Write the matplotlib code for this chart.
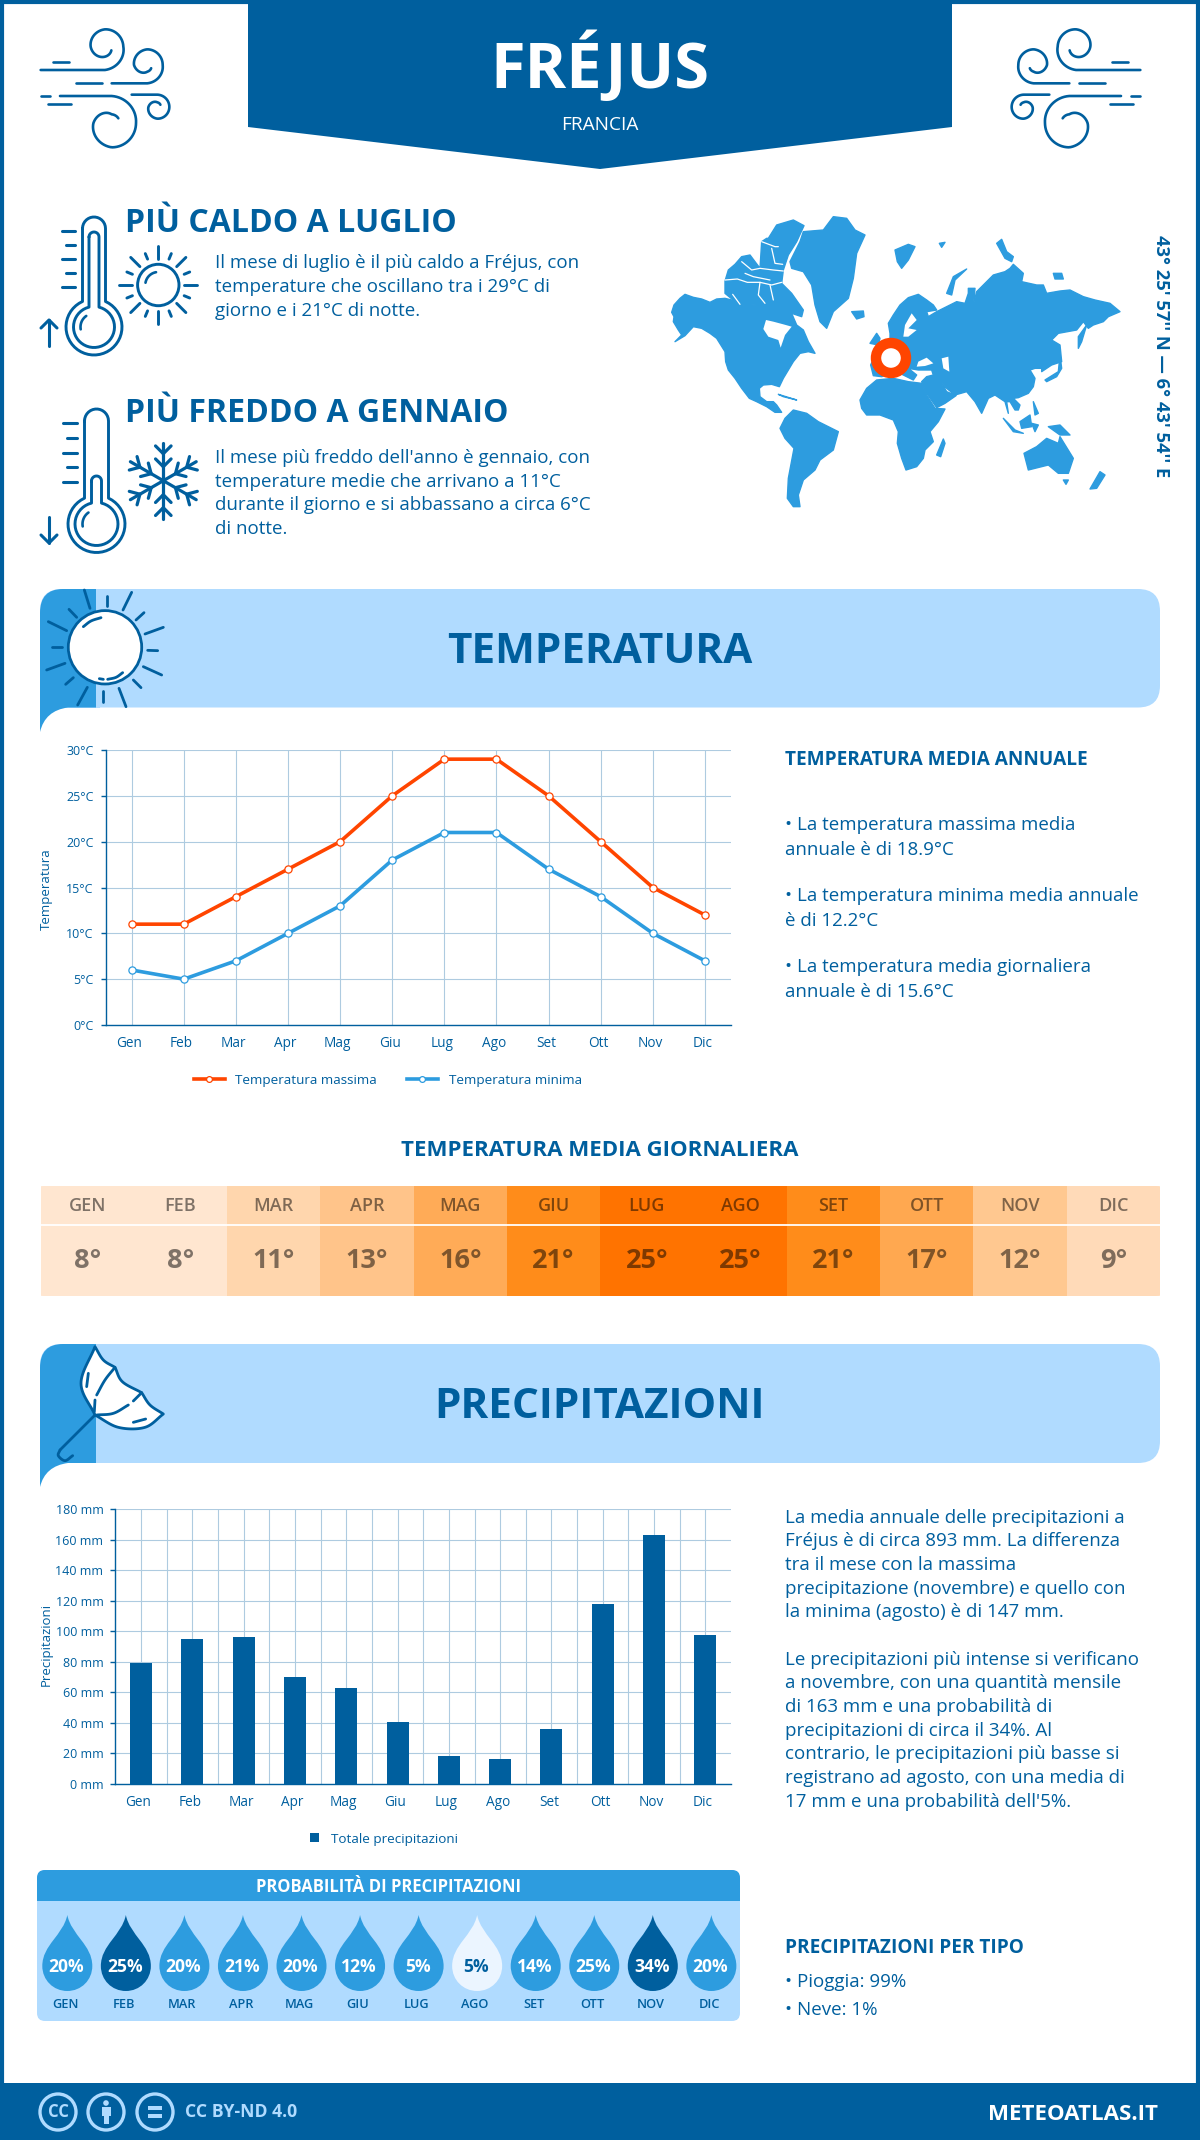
import numpy as np
import matplotlib
matplotlib.use('Agg')
import matplotlib.pyplot as plt
from matplotlib.patches import Circle, FancyBboxPatch, PathPatch, Polygon, Rectangle
from matplotlib.path import Path
from matplotlib.transforms import ScaledTranslation

plt.rcParams['font.family'] = ['Open Sans', 'DejaVu Sans']

W, H = 1200, 2140
BLUE = '#005f9e'
MID = '#2d9cdf'
LIGHT = '#b0dbff'
ORANGE = '#ff4500'
GRID = '#aecbe0'

# data
months = ['Gen', 'Feb', 'Mar', 'Apr', 'Mag', 'Giu', 'Lug', 'Ago', 'Set', 'Ott', 'Nov', 'Dic']
temp_max = [11, 11, 14, 17, 20, 25, 29, 29, 25, 20, 15, 12]
temp_min = [6, 5, 7, 10, 13, 18, 21, 21, 17, 14, 10, 7]
temp_avg = [8, 8, 11, 13, 16, 21, 25, 25, 21, 17, 12, 9]
temp_colors = ['#ffe6d0', '#ffe6d0', '#ffd6ad', '#ffc48a', '#ffab57', '#ff8c1a',
	'#ff7300', '#ff7300', '#ff8c1a', '#ffa850', '#ffc890', '#ffdab8']
precip = [79.4, 95.1, 96.4, 70.3, 63, 40.8, 18.5, 16.6, 36.2, 118, 163.2, 97.7]
precip_prob = [20, 25, 20, 21, 20, 12, 5, 5, 14, 25, 34, 20]
prob_colors = [MID, BLUE, MID, MID, MID, MID, MID, '#ebf5ff', MID, MID, BLUE, MID]
prob_text = ['white'] * 7 + [BLUE] + ['white'] * 4

hot_lines = ['Il mese di luglio è il più caldo a Fréjus, con',
	'temperature che oscillano tra i 29°C di',
	'giorno e i 21°C di notte.']
cold_lines = ["Il mese più freddo dell'anno è gennaio, con",
	'temperature medie che arrivano a 11°C',
	'durante il giorno e si abbassano a circa 6°C',
	'di notte.']
annual_lines = ['• La temperatura massima media', 'annuale è di 18.9°C',
	'• La temperatura minima media annuale', 'è di 12.2°C',
	'• La temperatura media giornaliera', 'annuale è di 15.6°C']
precip_lines = ['La media annuale delle precipitazioni a',
	'Fréjus è di circa 893 mm. La differenza',
	'tra il mese con la massima',
	'precipitazione (novembre) e quello con',
	'la minima (agosto) è di 147 mm.',
	'Le precipitazioni più intense si verificano',
	'a novembre, con una quantità mensile',
	'di 163 mm e una probabilità di',
	'precipitazioni di circa il 34%. Al',
	'contrario, le precipitazioni più basse si',
	'registrano ad agosto, con una media di',
	'17 mm e una probabilità dell\'5%.']

# rough outlines of the land masses, in crop coordinates of the map area
land = [
	# north america
	[(35,322),(42,300),(60,280),(75,268),(100,277),(125,282),(150,292),(170,282),(195,280),(215,285),(235,298),(262,302),(290,300),(310,290),(330,280),(345,290),(360,300),(375,310),(395,325),(410,360),(430,375),(445,410),(465,445),(445,440),(420,445),(400,470),(385,495),(370,520),(358,545),(335,538),(310,540),(298,550),(300,575),(320,590),(340,590),(350,600),(365,622),(345,622),(320,605),(290,590),(268,580),(245,550),(225,520),(205,495),(197,470),(195,440),(170,400),(150,385),(125,370),(100,365),(75,392),(45,410),(65,390),(55,375),(40,350),(42,335)],
	# arctic islands, one mass, cut up by the channels below
	[(195,228),(205,195),(225,178),(245,155),(270,150),(300,190),(305,110),(320,100),(325,100),(350,60),(400,45),(432,62),(410,110),(385,150),(370,195),(365,235),(395,265),(430,315),(425,335),(395,325),(360,300),(330,285),(300,300),(235,298),(195,265)],
	# greenland, iceland, svalbard and the russian islands
	[(390,170),(420,110),(430,80),(490,75),(520,35),(560,40),(585,75),(615,90),(590,145),(580,220),(565,280),(520,320),(500,370),(480,350),(465,300),(455,240),(430,200),(395,190)],
	[(575,320),(610,318),(612,335),(590,342)],
	[(705,135),(745,118),(765,125),(745,165),(725,190),(712,170)],
	[(838,115),(855,112),(845,127)],
	[(1010,115),(1025,103),(1040,140),(1060,155),(1055,170),(1035,160)],
	[(860,265),(880,215),(920,192),(885,225),(875,270)],
	[(1180,205),(1205,205),(1210,222),(1185,222)],
	# eurasia
	[(690,385),(685,355),(700,330),(720,300),(745,278),(775,268),(800,285),(820,300),(830,315),(800,320),(805,335),(830,320),(860,305),(890,290),(915,295),(925,265),(925,250),(945,250),(940,300),(950,260),(970,240),(1000,210),(1035,200),(1050,190),(1060,178),(1090,205),(1085,230),(1130,240),(1150,240),(1160,265),(1200,258),(1230,255),(1270,275),(1305,285),(1350,295),(1380,320),(1345,335),(1330,350),(1300,360),(1285,370),(1270,350),(1250,375),(1195,385),(1175,405),(1200,420),(1205,470),(1175,480),(1145,500),(1145,490),(1125,490),(1110,495),(1125,520),(1120,545),(1105,565),(1075,578),(1060,580),(1080,600),(1075,615),(1065,615),(1050,590),(1040,590),(1045,625),(1035,590),(1005,570),(985,580),(965,625),(945,590),(920,560),(885,570),(860,550),(845,535),(860,560),(888,572),(855,595),(830,608),(800,565),(785,530),(800,515),(820,510),(815,495),(775,495),(745,490),(770,510),(760,525),(740,515),(720,505),(700,505),(665,515),(640,512),(632,480),(650,440),(690,410)],
	[(630,415),(650,385),(660,400),(655,420)],
	# africa and madagascar
	[(600,585),(620,550),(650,525),(700,520),(745,530),(785,535),(800,570),(825,610),(855,612),(835,650),(810,680),(820,710),(795,735),(790,760),(770,785),(738,795),(725,760),(712,715),(715,680),(700,645),(660,630),(620,630),(605,610)],
	[(830,750),(850,702),(855,715),(842,755)],
	# south america and cuba
	[(360,670),(375,640),(400,615),(440,625),(475,650),(535,680),(520,735),(480,765),(465,795),(430,825),(415,870),(420,905),(400,905),(382,880),(385,820),(402,730),(375,700)],
	[(355,568),(410,585),(370,575)],
	# japan, sakhalin, the archipelago, oceania
	[(1155,525),(1195,500),(1200,450),(1205,490),(1190,515),(1160,530)],
	[(1255,395),(1280,360),(1265,410),(1255,430)],
	[(1030,640),(1065,675),(1090,685),(1060,680)],
	[(1080,650),(1110,630),(1115,665),(1085,670)],
	[(1120,590),(1135,625),(1125,630)],
	[(1115,655),(1135,660),(1125,680)],
	[(1165,665),(1200,660),(1230,690),(1200,690)],
	[(1092,745),(1130,725),(1160,700),(1195,715),(1200,695),(1240,760),(1225,805),(1195,805),(1165,780),(1105,795)],
	[(1210,825),(1225,825),(1218,838)],
	[(1290,852),(1320,800),(1335,810),(1310,850)],
]
holes = [
	[(310,372),(318,345),(340,350),(370,358),(395,365),(375,390),(362,428),(355,405),(325,395)],
	[(730,395),(735,360),(755,325),(770,345),(745,370),(770,375),(745,395)],
	[(775,470),(800,458),(820,475),(795,483),(770,485)],
	[(845,460),(865,455),(868,500),(850,490)],
]
channels = [
	[(195,225),(232,222),(262,232),(300,232),(335,240),(365,232)],
	[(218,268),(240,298)],
	[(300,232),(295,270),(315,295)],
	[(255,205),(280,215),(330,225)],
	[(245,170),(275,195),(300,190),(340,195),(370,198)],
	[(305,110),(345,125),(355,125)],
	[(335,130),(345,175),(368,178)],
	[(330,240),(340,285)],
]


def px_axes(x0, y0, x1, y1):
	return fig.add_axes([x0 / W, 1 - y1 / H, (x1 - x0) / W, (y1 - y0) / H])


def txt(x, y, s, size, color=BLUE, weight='normal', ha='left', va='baseline', **kw):
	return bg.text(x, y, s, fontsize=size, color=color, fontweight=weight, ha=ha, va=va, **kw)


def spline(pts, n=16):
	# catmull-rom through the points, so the icons do not look like polygons
	p = np.array(pts, dtype=float)
	p = np.vstack([2 * p[0] - p[1], p, 2 * p[-1] - p[-2]])
	out = []
	for i in range(1, len(p) - 2):
		for t in np.linspace(0, 1, n, endpoint=False):
			out.append(0.5 * (2 * p[i] + (p[i + 1] - p[i - 1]) * t
				+ (2 * p[i - 1] - 5 * p[i] + 4 * p[i + 1] - p[i + 2]) * t ** 2
				+ (3 * p[i] - p[i - 1] - 3 * p[i + 1] + p[i + 2]) * t ** 3))
	out.append(p[-2])
	return np.array(out)


def stroke(xy, lw=1.9, color=BLUE, z=3):
	xy = np.asarray(xy, dtype=float)
	bg.plot(xy[:, 0], xy[:, 1], color=color, lw=lw, solid_capstyle='round',
		solid_joinstyle='round', zorder=z)


def zoomed(pts, ox, oy, scale=3.0):
	return [(ox + a / scale, oy + b / scale) for a, b in pts]


def spiral(start, cx, cy, angles, radii):
	# straight run from start, then a curl whose radius shrinks with the angle
	t = np.linspace(angles[0], angles[-1], 80)
	if angles[0] > angles[-1]:
		r = np.interp(t[::-1], angles[::-1], radii[::-1])[::-1]
	else:
		r = np.interp(t, angles, radii)
	a = np.radians(t)
	return np.vstack([[start], np.c_[cx + r * np.cos(a), cy + r * np.sin(a)]])


def wind(mirror=None):
	curls = [
		spiral((32, 150), 225, 80, [90, 0, -90, -180, -270, -330], [70, 55, 52, 43, 30, 22]),
		spiral((245, 190), 352, 135, [90, 0, -90, -180, -270, -320], [55, 46, 47, 40, 20, 15]),
		spiral((90, 228), 245, 310, [-90, 0, 90, 180, 270, 323], [82, 73, 72, 55, 27, 25]),
		spiral((305, 224), 382, 262, [-90, 0, 90, 180, 270, 320], [38, 36, 34, 27, 15, 12]),
	]
	dashes = [[(68,125),(118,125)], [(138,190),(215,190)], [(32,228),(60,228)], [(55,252),(123,252)]]
	for s in curls + dashes:
		xy = np.array(zoomed(s, 30, 20))
		if mirror:
			xy[:, 0] = mirror - xy[:, 0]
		stroke(xy)


def thermo(cx, top, hw, cy, r):
	a = np.arcsin(hw / r)
	arc_top = np.linspace(np.pi, 0, 16)
	arc_bulb = np.linspace(-np.pi / 2 + a, 1.5 * np.pi - a, 40)
	xs = np.r_[cx + hw * np.cos(arc_top), cx + r * np.cos(arc_bulb)]
	ys = np.r_[top + hw - hw * np.sin(arc_top), cy + r * np.sin(arc_bulb)]
	xs = np.r_[xs, xs[0]]
	ys = np.r_[ys, ys[0]]
	stroke(np.c_[xs, ys], lw=2.1)


def ring_arc(cx, cy, r, a0, a1, lw=1.9, color=BLUE):
	t = np.radians(np.linspace(a0, a1, 16))
	stroke(np.c_[cx + r * np.cos(t), cy + r * np.sin(t)], lw=lw, color=color)


def ticks_arrow(xl, xs, xr, ys, ax, tail, tip):
	for i, y in enumerate(ys):
		stroke([(xl if i % 2 == 0 else xs, y), (xr, y)], lw=2.2)
	wing = 8 if tail > tip else -8
	stroke([(ax, tail), (ax, tip)], lw=2.2)
	stroke([(ax - 8, tip + wing), (ax, tip), (ax + 8, tip + wing)], lw=2.2)


def panel(y0, y1, y_tail, label):
	light = FancyBboxPatch((40 + 22, y0 + 22), 1120 - 44, y1 - y0 - 44, boxstyle='round,pad=22,rounding_size=22',
		fc=LIGHT, ec='none', zorder=1)
	bg.add_patch(light)
	# square the lower left corner, then the darker strip with its tail
	bg.add_patch(Rectangle((40, y1 - 30), 60, 30, fc=LIGHT, ec='none', zorder=1))
	verts = [(96, y0), (63, y0), (40, y0), (40, y0 + 24), (40, y_tail), (45, y1 + 3), (68, y1), (96, y1), (96, y0)]
	codes = [Path.MOVETO, Path.LINETO, Path.CURVE3, Path.CURVE3, Path.LINETO, Path.CURVE3, Path.CURVE3, Path.LINETO, Path.CLOSEPOLY]
	bg.add_patch(PathPatch(Path(verts, codes), fc=MID, ec='none', zorder=1.5))
	txt(600, (y0 + y1) / 2 + 4, label, 30.4, weight='bold', ha='center', va='center', zorder=3)


fig = plt.figure(figsize=(W / 100, H / 100), dpi=100, facecolor='white')
bg = fig.add_axes([0, 0, 1, 1])
bg.set_xlim(0, W)
bg.set_ylim(H, 0)
bg.axis('off')

# border and banner
bg.add_patch(Rectangle((2, 2), W - 4, H - 4, fc='none', ec=BLUE, lw=3, zorder=0.5))
bg.add_patch(Polygon([(248, 0), (952, 0), (952, 127), (600, 169), (248, 127)], fc=BLUE, ec='none', zorder=1))
txt(600, 88, 'FRÉJUS', 45.5, 'white', 'bold', ha='center', zorder=3)
txt(600, 130, 'FRANCIA', 13.7, 'white', ha='center', zorder=3)
wind()
wind(mirror=1181)

# hottest and coldest month
txt(125, 232, 'PIÙ CALDO A LUGLIO', 23, weight='bold')
for i, line in enumerate(hot_lines):
	txt(215, 268.5 + i * 24, line, 13.5)
txt(125, 422, 'PIÙ FREDDO A GENNAIO', 23, weight='bold')
for i, line in enumerate(cold_lines):
	txt(215, 463 + i * 23.7, line, 13.5)

thermo(94, 217, 11.5, 327, 28)
thermo(94, 232, 5, 327, 20.5)
ring_arc(94, 327, 13.5, 170, 235)
ticks_arrow(62, 66, 75, [231, 245, 259, 273, 287], 49, 346, 320)

thermo(96.5, 409, 12, 524, 28.5)
thermo(96.5, 476, 5, 524, 21.5)
ring_arc(96.5, 524, 14, 170, 235)
ticks_arrow(63, 67, 77, [423, 438, 453, 467, 482], 49, 517, 543)

sun_x, sun_y = 158.3, 285
bg.add_patch(Circle((sun_x, sun_y), 20.7, fc='white', ec=BLUE, lw=2.1, zorder=3))
ring_arc(sun_x, sun_y, 13, 190, 260)
for k in range(8):
	a = np.radians(45 * k)
	stroke([(sun_x + 26 * np.cos(a), sun_y + 26 * np.sin(a)), (sun_x + 39 * np.cos(a), sun_y + 39 * np.sin(a))], lw=2.1)
	a += np.radians(22.5)
	stroke([(sun_x + 28 * np.cos(a), sun_y + 28 * np.sin(a)), (sun_x + 34 * np.cos(a), sun_y + 34 * np.sin(a))], lw=2.1)

fx, fy = 163.3, 480.7
for k in range(6):
	a = np.radians(60 * k - 90)
	d = np.array([np.cos(a), np.sin(a)])
	stroke([(fx, fy), (fx + 38 * d[0], fy + 38 * d[1])], lw=2.3)
	for dist, ln in ((27, 11), (14, 11)):
		for sgn in (-1, 1):
			b = a + sgn * np.radians(45)
			base = np.array([fx, fy]) + dist * d
			stroke([base, base + ln * np.array([np.cos(b), np.sin(b)])], lw=2.3)

# map
for shape in land:
	bg.add_patch(Polygon(zoomed(shape, 660, 205), fc=MID, ec=MID, lw=1, joinstyle='round', zorder=1))
for shape in holes:
	bg.add_patch(Polygon(zoomed(shape, 660, 205), fc='white', ec='none', zorder=1.2))
for line in channels:
	stroke(zoomed(line, 660, 205), lw=0.9, color='white', z=1.3)
bg.add_patch(Circle((891, 358), 15, fc='white', ec=ORANGE, lw=7.5, zorder=3))
txt(1161, 356, "43° 25' 57'' N — 6° 43' 54'' E", 13.2, weight='bold', ha='center', va='center', rotation=-90, zorder=3)

# temperature
panel(589, 707.5, 732, 'TEMPERATURA')
sx, sy = 105, 647.3
bg.add_patch(Circle((sx, sy), 36.7, fc='white', ec=BLUE, lw=2, zorder=3))
rays = [[(165,70),(148,15)],[(125,97),(102,73)],[(95,137),(40,110)],[(82,185),(50,185)],[(90,235),(35,255)],
	[(115,278),(92,298)],[(157,307),(128,360)],[(203,318),(203,350)],[(252,310),(273,365)],[(295,285),(318,308)],
	[(325,245),(380,270)],[(338,196),(368,197)],[(330,147),(385,127)],[(303,105),(327,83)],[(264,75),(290,22)],[(215,62),(215,32)]]
for r in rays:
	stroke(zoomed(r, 35, 585), lw=2)
stroke(spline(zoomed([(145,125),(168,108),(198,98)], 35, 585)), lw=2)
stroke(spline(zoomed([(218,283),(243,277),(263,263)], 35, 585)), lw=2)
stroke(zoomed([(193,281),(205,283)], 35, 585), lw=2)

ax1 = px_axes(105.6, 750, 731, 1025)
x = np.arange(12)
ax1.plot(x, temp_max, color=ORANGE, lw=2.6, marker='o', ms=5.2, mfc='white', mec=ORANGE, mew=0.9, label='Temperatura massima')
ax1.plot(x, temp_min, color=MID, lw=2.6, marker='o', ms=5.2, mfc='white', mec=MID, mew=0.9, label='Temperatura minima')
ax1.set_xlim(-0.5, 11.5)
ax1.set_ylim(0, 30)
ax1.set_yticks(range(0, 31, 5))
ax1.set_yticklabels(['%d°C' % v for v in range(0, 31, 5)])
ax1.set_xticks(x)
ax1.set_xticklabels(months)
ax1.set_ylabel('Temperatura', fontsize=9.5, color=BLUE, labelpad=0)
ax1.yaxis.set_label_coords((53 - 105.6) / 625.4, (1025 - 889) / 275)
ax1.legend(loc='center', bbox_to_anchor=(0.451, -0.2), ncol=2, frameon=False, fontsize=9.7, labelcolor=BLUE,
	handlelength=2.3, columnspacing=2.2, handletextpad=0.8, markerscale=0.8)

# temperature by month
txt(600, 1150, 'TEMPERATURA MEDIA GIORNALIERA', 16, weight='bold', ha='center', va='center')
ax2 = px_axes(40.5, 1186, 1160, 1296)
clip = FancyBboxPatch((0, 0), 12, 1, boxstyle='round,pad=0,rounding_size=0.05', mutation_aspect=0.06, transform=ax2.transData, fc='none', ec='none')
ax2.add_patch(clip)
for b in ax2.bar(x + 0.5, 1, width=1, color=temp_colors):
	b.set_clip_path(clip)
ax2.axhline(1 - 39 / 110, color='white', lw=1.3)
ax2.set_xlim(0, 12)
ax2.set_ylim(0, 1)
ax2.axis('off')
for i in range(12):
	ax2.text(i + 0.5, 1 - 20 / 110, months[i].upper(), fontsize=13, fontweight='semibold', color='black', alpha=0.5, ha='center', va='center')
	ax2.text(i + 0.5, 1 - 75 / 110, '%d°' % temp_avg[i], fontsize=19.5, fontweight='bold', color='black', alpha=0.5, ha='center', va='center')

# text beside the temperature chart
txt(785, 765, 'TEMPERATURA MEDIA ANNUALE', 13.7, weight='bold')
for y, line in zip([830, 855, 901, 926, 972, 997], annual_lines):
	txt(785, y, line, 13.5)

# precipitation
panel(1344, 1463, 1487, 'PRECIPITAZIONI')
umb = [(180,20),(205,60),(240,82)], [(240,82),(262,125),(320,158)], [(320,158),(345,195),(385,222)], [(385,222),(330,262),(250,262),(180,225)], [(180,225),(138,130),(180,20)]
outline = np.vstack([spline(zoomed(s, 35, 1340)) for s in umb])
bg.add_patch(Polygon(outline, fc='white', ec=BLUE, lw=2, joinstyle='round', zorder=2.5))
stroke(spline(zoomed([(240,82),(210,120),(185,165)], 35, 1340)), lw=2)
stroke(zoomed([(180,180),(178,215)], 35, 1340), lw=2)
stroke(zoomed([(320,158),(295,183)], 35, 1340), lw=2)
stroke(spline(zoomed([(280,195),(235,220),(185,225)], 35, 1340)), lw=2)
stroke(zoomed([(160,100),(155,140)], 35, 1340), lw=2)
stroke(zoomed([(295,247),(332,237)], 35, 1340), lw=2)
stroke(zoomed([(180,225),(75,330)], 35, 1340), lw=2)
stroke(spline(zoomed([(75,330),(70,347),(90,362),(113,347)], 35, 1340)), lw=2)

ax3 = px_axes(115.4, 1509, 731, 1784)
ax3.bar(x, precip, width=0.43, color=BLUE, zorder=3, label='Totale precipitazioni')
ax3.set_xlim(-0.5, 11.5)
ax3.set_ylim(0, 180)
ax3.set_yticks(range(0, 181, 20))
ax3.set_yticklabels(['%d mm' % v for v in range(0, 181, 20)])
ax3.set_xticks(x)
ax3.set_xticklabels(months)
ax3.set_xticks(x[:-1] + 0.5, minor=True)
ax3.set_ylabel('Precipitazioni', fontsize=9.5, color=BLUE, labelpad=0)
ax3.yaxis.set_label_coords((53 - 115.4) / 615.6, (1784 - 1645) / 275)
ax3.legend(loc='center', bbox_to_anchor=(0.437, -0.2), frameon=False, fontsize=9.7, labelcolor=BLUE,
	handlelength=0.65, handleheight=0.65, handletextpad=0.9)

for ax in (ax1, ax3):
	ax.grid(True, axis='y', color=GRID, lw=0.8, zorder=0)
	ax.grid(ax is ax1, axis='x', color=GRID, lw=0.8, zorder=0)
	ax.set_axisbelow(True)
	for side in ('top', 'right'):
		ax.spines[side].set_visible(False)
	for side in ('left', 'bottom'):
		ax.spines[side].set_color(BLUE)
		ax.spines[side].set_linewidth(1)
	ax.tick_params(axis='y', colors=BLUE, labelsize=9, length=3.6, width=1, pad=5)
	ax.tick_params(axis='x', which='major', colors=BLUE, labelsize=9.8, length=0, pad=8)
	for lbl in ax.get_xticklabels():
		lbl.set_transform(lbl.get_transform() + ScaledTranslation(-0.025, 0, fig.dpi_scale_trans))
ax3.grid(True, axis='x', which='minor', color=GRID, lw=0.8, zorder=0)
ax3.tick_params(axis='x', which='minor', length=0)

for y, line in zip([1523, 1546, 1570, 1594, 1617, 1665, 1688, 1712, 1736, 1759, 1783, 1807], precip_lines):
	txt(785, y, line, 13.5)

# chance of rain
bg.add_patch(FancyBboxPatch((37 + 8, 1870 + 8), 703 - 16, 151 - 16, boxstyle='round,pad=8,rounding_size=8', fc=LIGHT, ec='none', zorder=1))
hdr = FancyBboxPatch((37 + 8, 1870 + 8), 703 - 16, 60, boxstyle='round,pad=8,rounding_size=8', fc=MID, ec='none', zorder=1.2)
bg.add_patch(hdr)
hdr.set_clip_path(Rectangle((37, 1870), 703, 31, transform=bg.transData))
txt(389, 1887, 'PROBABILITÀ DI PRECIPITAZIONI', 12, 'white', 'bold', ha='center', va='center', zorder=3)
for i in range(12):
	c = 67.3 + i * 58.55
	verts = [(c, 1915), (c + 4, 1935), (c + 25, 1945), (c + 25, 1966), (c + 25, 1980), (c + 14, 1991), (c, 1991),
		(c - 14, 1991), (c - 25, 1980), (c - 25, 1966), (c - 25, 1945), (c - 4, 1935), (c, 1915)]
	codes = [Path.MOVETO] + [Path.CURVE4] * 12
	bg.add_patch(PathPatch(Path(verts, codes), fc=prob_colors[i], ec='none', zorder=2))
	txt(c - 1, 1967, '%d%%' % precip_prob[i], 12.6, prob_text[i], 'bold', ha='center', va='center', zorder=3)
	txt(c - 2, 2004, months[i].upper(), 9.2, BLUE, 'semibold', ha='center', va='center', zorder=3)

txt(785, 1953, 'PRECIPITAZIONI PER TIPO', 13.7, weight='bold')
txt(785, 1987, '• Pioggia: 99%', 13.5)
txt(785, 2015, '• Neve: 1%', 13.5)

# footer
bg.add_patch(Rectangle((0, 2083), W, H - 2083, fc=BLUE, ec='none', zorder=2))
for cx in (58, 106, 155):
	bg.add_patch(Circle((cx, 2112), 18, fc='none', ec=LIGHT, lw=2.4, zorder=3))
txt(58, 2112, 'CC', 12, LIGHT, 'bold', ha='center', va='center', zorder=4)
bg.add_patch(Circle((106, 2103), 2.8, fc=LIGHT, ec='none', zorder=4))
bg.add_patch(Rectangle((101.5, 2107), 9, 9, fc=LIGHT, ec='none', zorder=4))
bg.add_patch(Rectangle((103.5, 2116), 5, 8, fc=LIGHT, ec='none', zorder=4))
bg.add_patch(Rectangle((148, 2106), 14, 4, fc=LIGHT, ec='none', zorder=4))
bg.add_patch(Rectangle((148, 2114), 14, 4, fc=LIGHT, ec='none', zorder=4))
txt(185, 2112, 'CC BY-ND 4.0', 12.7, LIGHT, 'bold', va='center', zorder=4)
txt(1158, 2114, 'METEOATLAS.IT', 16, 'white', 'bold', ha='right', va='center', zorder=4)

fig.savefig('out.png', dpi=100)
